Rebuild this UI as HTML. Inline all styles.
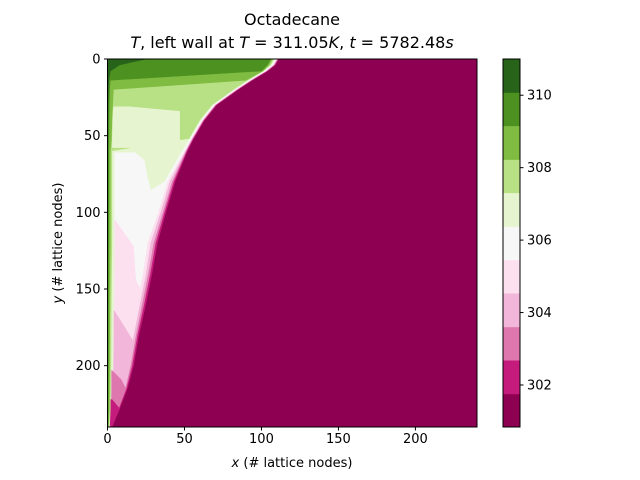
<!DOCTYPE html>
<html><head><meta charset="utf-8"><style>
html,body{margin:0;padding:0;background:#fff;}
svg{display:block;font-family:"DejaVu Sans","Liberation Sans",sans-serif;}
</style></head><body>
<svg id="chart" width="640" height="480" viewBox="0 0 640 480" xmlns="http://www.w3.org/2000/svg">
<rect width="640" height="480" fill="#fff"/>
<text x="292" y="25" font-size="16" text-anchor="middle">Octadecane</text>
<text x="292" y="48" font-size="16" text-anchor="middle"><tspan font-style="italic">T</tspan>, left wall at <tspan font-style="italic">T</tspan> = 311.05<tspan font-style="italic">K</tspan>, <tspan font-style="italic">t</tspan> = 5782.48<tspan font-style="italic">s</tspan></text>
<defs><clipPath id="pc"><rect x="107.5" y="59" width="369.5" height="368"/></clipPath></defs>
<g id="plot" clip-path="url(#pc)"></g>
<g id="axes"></g>
<g id="cbar"></g>
<text x="292" y="467" font-size="13" text-anchor="middle"><tspan font-style="italic">x</tspan> (# lattice nodes)</text>
<text transform="translate(62,243) rotate(-90)" font-size="13" text-anchor="middle"><tspan font-style="italic">y</tspan> (# lattice nodes)</text>
</svg>
<script>
// ---- data ----
const colors = ["#8e0152","#c51b7d","#de77ae","#f1b6da","#fde0ef","#f7f7f7","#e6f5d0","#b8e186","#7fbc41","#4d9221","#276419"];
const levels = [300.84,301.76,302.69,303.61,304.54,305.46,306.38,307.31,308.23,309.16,310.08,311.0];
const yGrid = [0,4,8,14,20,30,40,52,60,80,100,120,140,160,180,200,215,228,240];
const cross1 = [112,109,104,94,85,71,63,56,52,44,38,32.5,29,25,20.5,17,13,8,3];
const cross2 = [111.6,108.6,103.6,93.6,84.6,70.6,62.6,55.6,51.5,43,37,31.3,27.8,23.8,19.5,16,12.3,7.3,2.7];
const cross3 = [111.2,108.2,103.2,93.2,84.2,70.2,62.2,55.2,51,42,36,30,26.5,22.5,18.5,15,11.5,6.5,2.4];
const cross4 = [110.8,107.8,102.8,92.8,83.8,69.8,61.8,54.8,50.5,40.5,34.5,28,25,21,17,13.5,10,5.5,2];
const cross5 = [110.3,107.3,102.3,92.3,83.3,69.3,61.3,54.3,50,39,33,26,23,19,15,12,8,4,1.5];
const cross6 = [109.5,106.5,101.5,91.5,82.5,68.5,60.5,53.5,48.5,37,4.5,4.5,4.5,4.3,4,3.8,3.5,3,1.5];
const cross7 = [109,106,101,91,82,68,60,53,3,3,3,3,2.8,2.6,2.5,2.4,2.2,2,1];
const cross8 = [108,105,101,90,4,3.5,3,2.7,2,2,2,2,1.8,1.7,1.6,1.5,1.4,1.3,0.8];
const cross9 = [107,104,100,2,1.5,1.3,1.2,1.1,1,1,1,0.9,0.9,0.8,0.8,0.8,0.7,0.7,0.5];
const cross10 = [32,8,2,1,0.8,0.6,0.5,0.5,0.4,0.4,0.4,0.4,0.3,0.3,0.3,0.3,0.3,0.3,0.3];
// interior pockets: band index, y, left edge, right edge
const pocketBands = [6,5,4,3,2,1];
const pocketY = [[31,34,52,58],[61,66,77,92,100,120,140,146],[105,122,144,150,160,180,200,215,228],[164,185,200,215,228,240],[203,209,215,228,240],[222,228,240]];
const pocketL = [[4,3.5,3,3],[4.5,4.5,4.5,4.5,4.5,4.5,4.5,4.5],[4.5,4.5,4.5,4.5,4.3,4,3.8,3.5,3],[4,4,3.8,3.5,3,1.5],[2.5,2.5,2.5,2.3,1.5],[2,2,1.5]];
const pocketR = [[14,47,47,50],[18,24,26,30,33,26,23,21],[5,17,18.5,21.5,21,17,13.5,10,5.5],[4.5,17.5,15,11.5,6.5,2.4],[3,9,12,7.3,2.7],[3,8,3]];
const xTicks = [0,50,100,150,200];
const yTicks = [0,50,100,150,200];
const cbTicks = [302,304,306,308,310];

// ---- axes ----
const X0=107.5, X1=477, Y0=59, Y1=427, XMAX=240, YMAX=240;
const sx = v => X0 + v/XMAX*(X1-X0);
const sy = v => Y0 + v/YMAX*(Y1-Y0);
const NS="http://www.w3.org/2000/svg";
function mk(tag, attrs, parent){const e=document.createElementNS(NS,tag);for(const k in attrs)e.setAttribute(k,attrs[k]);parent.appendChild(e);return e;}
const plot=document.getElementById('plot'), axes=document.getElementById('axes'), cbar=document.getElementById('cbar');

let bg=mk('rect',{x:X0,y:Y0,width:X1-X0,height:Y1-Y0,fill:colors[0]},plot);



const crosses=[cross1,cross2,cross3,cross4,cross5,cross6,cross7,cross8,cross9,cross10];
crosses.forEach((c,i)=>{
  let pts=[[sx(0)-2,sy(yGrid[0])-2]];
  yGrid.forEach((y,j)=>pts.push([sx(c[j]),sy(y)]));
  pts[1][1]-=2;
  pts.push([sx(c[c.length-1]),sy(YMAX)+2]);
  pts.push([sx(0)-2,sy(YMAX)+2]);
  const p=mk('polygon',{points:pts.map(q=>q.join(',')).join(' '),fill:colors[i+1]},plot);
  
  
});
pocketBands.forEach((b,i)=>{
  const ys=pocketY[i], L=pocketL[i], R=pocketR[i];
  let pts=[];
  ys.forEach((y,j)=>pts.push([sx(L[j]),sy(y)]));
  for(let j=ys.length-1;j>=0;j--) pts.push([sx(R[j]),sy(ys[j])]);
  const p=mk('polygon',{points:pts.map(q=>q.join(',')).join(' '),fill:colors[b]},plot);
  
  
});

let frame=mk('rect',{x:X0,y:Y0,width:X1-X0,height:Y1-Y0,fill:'none',stroke:'#000','stroke-width':1},axes);


xTicks.forEach(v=>{
  const t=mk('line',{x1:sx(v),x2:sx(v),y1:Y1,y2:Y1+3.5,stroke:'#000'},axes);
  
  
  const l=mk('text',{x:sx(v),y:Y1+16,'font-size':13,'text-anchor':'middle'},axes);
  l.textContent=v;
  
  
});
yTicks.forEach(v=>{
  const t=mk('line',{x1:X0-3.5,x2:X0,y1:sy(v),y2:sy(v),stroke:'#000'},axes);
  
  
  const l=mk('text',{x:X0-7,y:sy(v)+4.5,'font-size':13,'text-anchor':'end'},axes);
  l.textContent=v;
  
  
});

// ---- colorbar ----
const CX0=503, CX1=520, CY0=59, CY1=427;
const vmin=levels[0], vmax=levels[levels.length-1];
const cy = v => CY1 - (v-vmin)/(vmax-vmin)*(CY1-CY0);
colors.forEach((c,i)=>{
  const r=mk('rect',{x:CX0,y:cy(levels[i+1]),width:CX1-CX0,height:cy(levels[i])-cy(levels[i+1])+0.5,fill:c},cbar);
  
  
});
let cf=mk('rect',{x:CX0,y:CY0,width:CX1-CX0,height:CY1-CY0,fill:'none',stroke:'#000'},cbar);


cbTicks.forEach(v=>{
  const t=mk('line',{x1:CX1,x2:CX1+3.5,y1:cy(v),y2:cy(v),stroke:'#000'},cbar);
  
  
  const l=mk('text',{x:CX1+7,y:cy(v)+4.5,'font-size':13},cbar);
  l.textContent=v;
  
  
});
</script>
</body></html>
